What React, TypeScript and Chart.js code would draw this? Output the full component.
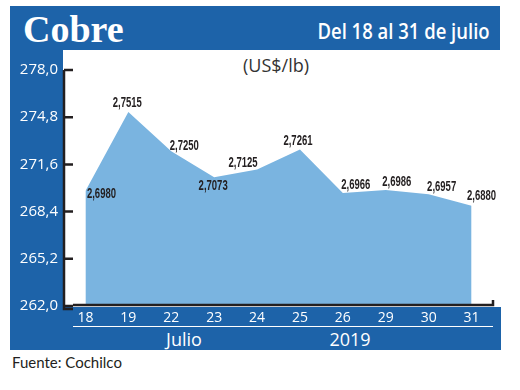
import React, { useEffect, useRef } from "react";
import { Chart, registerables } from "chart.js";

Chart.register(...registerables);

// ---- data ----
const days = ["18", "19", "22", "23", "24", "25", "26", "29", "30", "31"];
const pricesUsdLb = [2.698, 2.7515, 2.725, 2.7073, 2.7125, 2.7261, 2.6966, 2.6986, 2.6957, 2.688];
const yTickValues = [262.0, 265.2, 268.4, 271.6, 274.8, 278.0];
const titleText = "Cobre";
const periodText = "Del 18 al 31 de julio";
const unitText = "(US$/lb)";
const monthText = "Julio";
const yearText = "2019";
const sourceText = "Fuente: Cochilco";

// ---- styling ----
const BLUE = "#1d63a9";
const FILL = "#7ab4e0";
const INK = "#231f20";
// label placement relative to each point (dx, dy)
const labelOffsets: [number, number][] = [
  [16, 3], [-1, -9], [13, -5], [-1, 9], [-14, -6],
  [-2, -8], [13, -8], [11, -8], [13, -7], [10, -10],
];

const fmt = (v: number, d: number) => v.toFixed(d).replace(".", ",");

const axesPlugin = {
  id: "customAxes",
  afterDatasetsDraw(chart: any) {
    const { ctx, chartArea, scales } = chart;
    const { left, right, bottom } = chartArea;
    const y = scales.y;
    const top = y.getPixelForValue(278);
    ctx.save();
    ctx.strokeStyle = INK;
    ctx.lineWidth = 2.5;
    ctx.lineCap = "butt";
    ctx.beginPath();
    ctx.moveTo(left, top);
    ctx.lineTo(left, bottom + 3);
    ctx.lineTo(left + 9, bottom + 3);
    ctx.stroke();
    ctx.beginPath();
    ctx.moveTo(left + 9, bottom - 1);
    ctx.lineTo(right, bottom - 1);
    ctx.lineTo(right, bottom - 6);
    ctx.stroke();
    ctx.beginPath();
    y.ticks.forEach((t: any) => {
      const py = y.getPixelForValue(t.value);
      ctx.moveTo(left, py);
      ctx.lineTo(left + 9, py);
    });
    ctx.stroke();
    ctx.restore();
  },
};

const labelsPlugin = {
  id: "valueLabels",
  afterDatasetsDraw(chart: any) {
    const { ctx } = chart;
    const meta = chart.getDatasetMeta(0);
    ctx.save();
    ctx.fillStyle = INK;
    ctx.font = 'bold 14px "Liberation Sans", Arial, sans-serif';
    ctx.textAlign = "center";
    ctx.textBaseline = "middle";
    meta.data.forEach((pt: any, i: number) => {
      const [dx, dy] = labelOffsets[i];
      ctx.save();
      ctx.translate(pt.x + dx, pt.y + dy);
      ctx.scale(0.68, 1);
      ctx.fillText(fmt(pricesUsdLb[i], 4), 0, 0);
      ctx.restore();
    });
    ctx.restore();
  },
};

function CopperChart() {
  const ref = useRef<HTMLCanvasElement>(null);
  useEffect(() => {
    if (!ref.current) return;
    const chart = new Chart(ref.current, {
      type: "line",
      data: {
        labels: days,
        datasets: [
          {
            data: pricesUsdLb.map((v) => Math.round(v * 10000) / 100),
            fill: "start",
            backgroundColor: FILL,
            borderWidth: 0,
            borderColor: FILL,
            pointRadius: 0,
            tension: 0,
          },
        ],
      },
      options: {
        responsive: false,
        animation: false,
        devicePixelRatio: 1,
        layout: { padding: { top: 70, right: 27, bottom: 54, left: 0 } },
        plugins: { legend: { display: false }, tooltip: { enabled: false } },
        scales: {
          x: {
            offset: true,
            grid: { display: false, drawTicks: false },
            border: { display: false },
            ticks: {
              color: "#ffffff",
              font: { family: '"Open Sans", sans-serif', size: 14 },
              padding: 4,
              maxRotation: 0,
              autoSkip: false,
            },
            afterFit(scale: any) {
              scale.height = 30;
            },
          },
          y: {
            min: 262,
            max: 278,
            grid: { display: false, drawTicks: false },
            border: { display: false },
            ticks: {
              color: "#ffffff",
              font: { family: '"Open Sans", sans-serif', size: 15 },
              padding: 6,
              callback: (v: any) => fmt(Number(v), 1),
            },
            afterBuildTicks(scale: any) {
              scale.ticks = yTickValues.map((v) => ({ value: v }));
            },
            afterFit(scale: any) {
              scale.width = 64;
            },
          },
        },
      },
      plugins: [axesPlugin, labelsPlugin],
    });
    return () => chart.destroy();
  }, []);
  return (
    <canvas
      ref={ref}
      width={520}
      height={390}
      style={{ position: "absolute", left: 0, top: 0, width: 520, height: 390 }}
    />
  );
}

const abs = (s: React.CSSProperties): React.CSSProperties => ({ position: "absolute", ...s });

export default function App() {
  return (
    <div style={abs({ left: 0, top: 0, width: 520, height: 390, background: "#fff", overflow: "hidden" })}>
      <div style={abs({ left: 10, top: 6, width: 490, height: 44, background: BLUE })} />
      <div style={abs({ left: 10, top: 50, width: 53, height: 257, background: BLUE })} />
      <div style={abs({ left: 10, top: 307, width: 491, height: 43, background: BLUE })} />
      <div
        style={abs({
          left: 23,
          top: 10,
          fontFamily: '"Liberation Serif", serif',
          fontWeight: 700,
          fontSize: 38,
          lineHeight: "38px",
          color: "#fff",
          whiteSpace: "nowrap",
        })}
      >
        {titleText}
      </div>
      <div
        style={abs({
          right: 30,
          top: 21,
          fontFamily: '"Open Sans", sans-serif',
          fontWeight: 600,
          fontSize: 21,
          lineHeight: "21px",
          color: "#fff",
          whiteSpace: "nowrap",
          transform: "scaleX(0.88)",
          transformOrigin: "right center",
        })}
      >
        {periodText}
      </div>
      <div
        style={abs({
          left: 216,
          width: 120,
          top: 54,
          textAlign: "center",
          fontFamily: '"Open Sans", sans-serif',
          fontSize: 18,
          lineHeight: "22px",
          color: "#333",
        })}
      >
        {unitText}
      </div>
      <div style={abs({ left: 73, top: 326, width: 420, height: 1, background: "#fff" })} />
      <div
        style={abs({
          left: 134,
          width: 100,
          top: 328,
          textAlign: "center",
          fontFamily: '"Open Sans", sans-serif',
          fontSize: 18,
          lineHeight: "22px",
          color: "#fff",
        })}
      >
        {monthText}
      </div>
      <div
        style={abs({
          left: 300,
          width: 100,
          top: 328,
          textAlign: "center",
          fontFamily: '"Open Sans", sans-serif',
          fontSize: 18,
          lineHeight: "22px",
          color: "#fff",
        })}
      >
        {yearText}
      </div>
      <div
        style={abs({
          left: 12,
          top: 352,
          fontFamily: '"Lato", sans-serif',
          fontSize: 15,
          lineHeight: "20px",
          color: INK,
          whiteSpace: "nowrap",
        })}
      >
        {sourceText}
      </div>
      <CopperChart />
    </div>
  );
}
